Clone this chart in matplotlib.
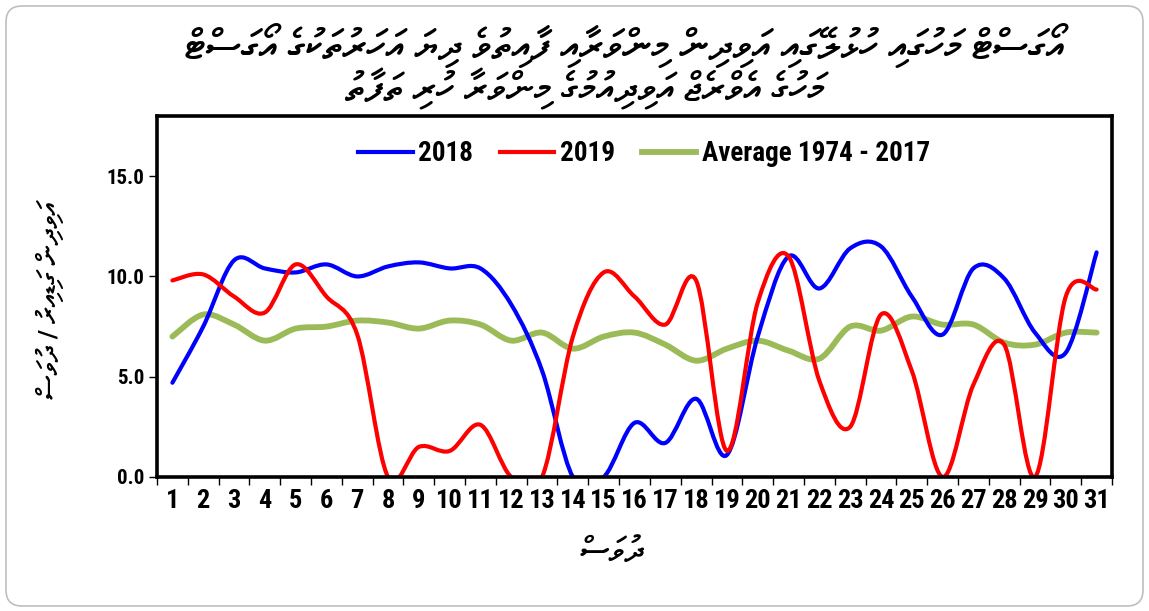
import matplotlib
matplotlib.use('Agg')
import matplotlib.pyplot as plt
import numpy as np
from matplotlib.path import Path
from matplotlib.patches import PathPatch, FancyBboxPatch
from matplotlib.lines import Line2D
from matplotlib.ticker import FixedLocator, FormatStrFormatter
from matplotlib.transforms import IdentityTransform

# ---------------- data ----------------
days = list(range(1, 32))
sun_2018 = [4.7, 7.5, 10.8, 10.4, 10.2, 10.6, 10.0, 10.5, 10.7, 10.4, 10.4, 8.6, 5.3, 0.0, 0.0,
            2.7, 1.7, 3.9, 1.1, 7.0, 11.0, 9.4, 11.4, 11.5, 9.0, 7.1, 10.4, 9.9, 7.2, 6.2, 11.2]
sun_2019 = [9.8, 10.1, 9.0, 8.2, 10.6, 9.0, 7.1, 0.0, 1.5, 1.3, 2.6, 0.0, 0.0, 7.0, 10.2,
            9.0, 7.6, 9.8, 1.3, 8.7, 11.0, 4.8, 2.5, 8.1, 5.3, 0.0, 4.6, 6.6, 0.0, 9.0, 9.35]
sun_avg = [7.0, 8.1, 7.6, 6.8, 7.4, 7.5, 7.8, 7.7, 7.4, 7.8, 7.6, 6.8, 7.2, 6.4, 7.0,
           7.2, 6.6, 5.8, 6.4, 6.8, 6.3, 5.9, 7.5, 7.3, 8.0, 7.6, 7.6, 6.7, 6.6, 7.2, 7.2]
series_labels = ['2018', '2019', 'Average 1974 - 2017']
y_ticks = [0, 5, 10, 15]

title_line1 = 'އޯގަސްޓް މަހުގައި ހުޅުލޭގައި އަވިދިން މިންވަރާއި ފާއިތުވެ ދިޔަ އަހަރުތަކުގެ އޯގަސްޓް'
title_line2 = 'މަހުގެ އެވްރެޖް އަވިދިއުމުގެ މިންވަރާ ހުރި ތަފާތު'
x_label = 'ދުވަސް'
y_label = 'އަވިދިން ގަޑިއިރު / ދުވަސް'


def rtl(s):
    """Reorder Thaana text into visual (left-to-right) order for plain rendering."""
    clusters = []
    for ch in s:
        if 0x07A6 <= ord(ch) <= 0x07B0 and clusters:
            clusters[-1] += ch
        else:
            clusters.append(ch)
    # the zero-width vowel sign is drawn just before its letter
    clusters = [c[1:] + c[0] if len(c) > 1 else c for c in clusters]
    return ''.join(reversed(clusters))


def smooth_path(x, y):
    pts = np.column_stack([x, y]).astype(float)
    n = len(pts)
    verts = [pts[0]]
    codes = [Path.MOVETO]
    for i in range(n - 1):
        p0 = pts[i - 1] if i > 0 else pts[i]
        p1 = pts[i]
        p2 = pts[i + 1]
        p3 = pts[i + 2] if i + 2 < n else pts[i + 1]
        c1 = p1 + (p2 - p0) / 6.0
        c2 = p2 - (p3 - p1) / 6.0
        verts += [c1, c2, p2]
        codes += [Path.CURVE4] * 3
    return Path(verts, codes)


thaana = ['FreeSerif', 'Noto Sans Thaana', 'DejaVu Sans']
latin = ['Roboto Condensed', 'Liberation Sans', 'DejaVu Sans']

fig = plt.figure(figsize=(11.49, 6.11), dpi=100)
fig.patch.set_facecolor('white')

border = FancyBboxPatch((6, 5), 1137, 600, boxstyle='round,pad=0,rounding_size=16',
                        transform=IdentityTransform(), facecolor='none',
                        edgecolor='#BFBFBF', linewidth=1.2, zorder=0)
fig.patches.append(border)

ax = fig.add_axes([157 / 1149, 1 - 477 / 611, (1112 - 157) / 1149, (477 - 116) / 611])
ax.set_xlim(0.5, 31.5)
ax.set_ylim(0, 18)

colors = ['#0000FF', '#FF0000', '#9BBB59']
widths = [3.0, 3.0, 4.2]
order = [(sun_avg, colors[2], widths[2]), (sun_2018, colors[0], widths[0]), (sun_2019, colors[1], widths[1])]
for vals, c, lw in order:
    ax.add_patch(PathPatch(smooth_path(days, vals), facecolor='none', edgecolor=c,
                           linewidth=lw, capstyle='round', joinstyle='round'))

handles = [Line2D([], [], color=colors[i], linewidth=widths[i]) for i in range(3)]
leg = ax.legend(handles, series_labels, loc='upper center', bbox_to_anchor=(0.51, 1.0), ncol=3,
                frameon=False, handlelength=2.0, handletextpad=0.2, columnspacing=1.0,
                prop={'family': latin, 'weight': 'bold', 'size': 19.5})

for s in ax.spines.values():
    s.set_linewidth(2.6)
    s.set_color('black')

ax.yaxis.set_major_locator(FixedLocator(y_ticks))
ax.yaxis.set_major_formatter(FormatStrFormatter('%.1f'))
ax.set_xticks(days)
ax.set_xticklabels([str(d) for d in days])
ax.xaxis.set_minor_locator(FixedLocator(np.arange(0.5, 32, 1)))
ax.tick_params(axis='x', which='major', length=0, pad=9)
ax.tick_params(axis='x', which='minor', length=6, width=1, direction='out')
ax.tick_params(axis='y', which='major', length=6, width=1, direction='out', pad=3)
for lab in ax.get_xticklabels():
    lab.set_fontfamily(latin)
    lab.set_fontweight('bold')
    lab.set_fontsize(19)
for lab in ax.get_yticklabels():
    lab.set_fontfamily(latin)
    lab.set_fontweight('bold')
    lab.set_fontsize(15)

fig.text(625 / 1149, 1 - 45 / 611, rtl(title_line1), ha='center', va='center',
         family=thaana, fontsize=29, fontweight='bold')
fig.text(585 / 1149, 1 - 89 / 611, rtl(title_line2), ha='center', va='center',
         family=thaana, fontsize=28, fontweight='bold')
fig.text(612 / 1149, 1 - 553 / 611, rtl(x_label), ha='center', va='center',
         family=thaana, fontsize=24, fontweight='bold')
fig.text(50 / 1149, 1 - 300 / 611, rtl(y_label), ha='center', va='center', rotation=90,
         family=thaana, fontsize=20, fontweight='bold')

fig.savefig('out.png', dpi=100, facecolor='white')
